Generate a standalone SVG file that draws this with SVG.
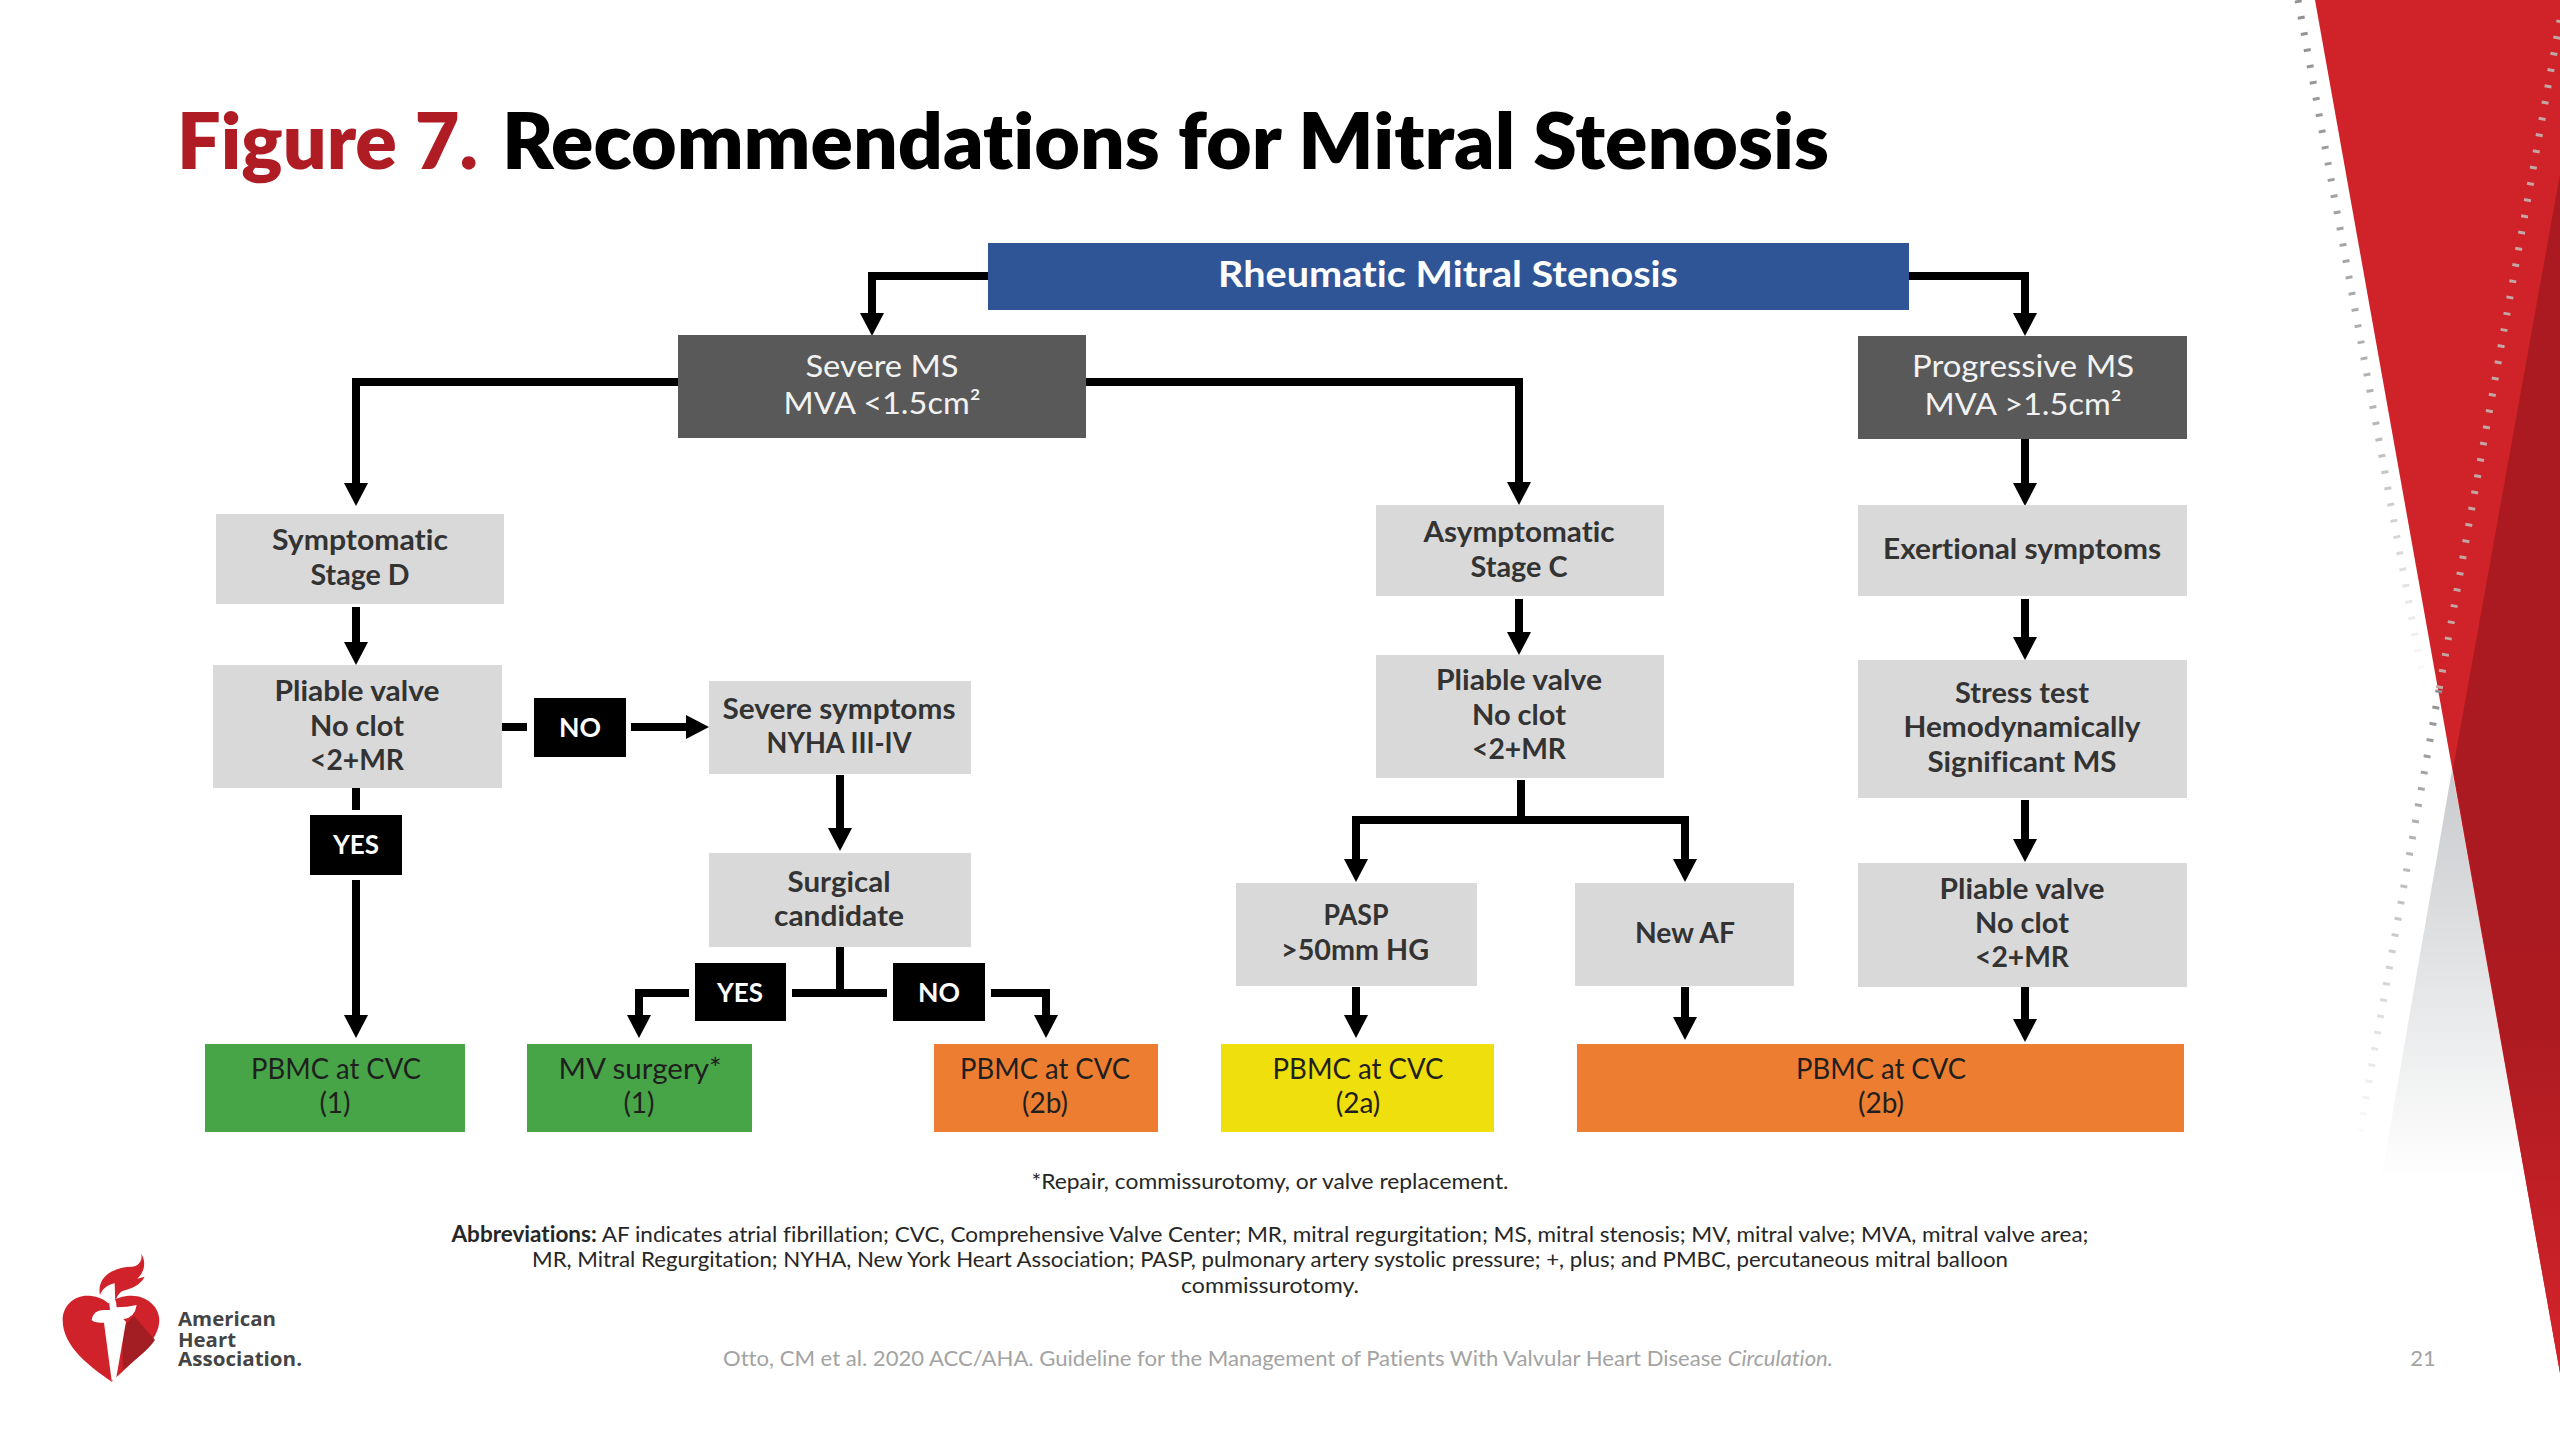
<svg xmlns="http://www.w3.org/2000/svg" width="2560" height="1440" viewBox="0 0 2560 1440">
<style>
text{font-family:Lato,"Open Sans","Liberation Sans",sans-serif;text-anchor:middle;font-variant-ligatures:none}
.t{font-size:77px;font-weight:800;text-anchor:start;fill:#000}
.g{fill:#d9d9d9}.d{fill:#595959}.k{fill:#000}
.gt{font-size:28px;font-weight:700;fill:#333}
.wt{font-size:31px;fill:#f2f2f2}
.lt{font-size:27px;font-weight:700;fill:#fff}
.rt{font-size:28px;fill:#1f1f1f}
.sm{font-size:22px;fill:#262626}
.ft{font-size:22px;fill:#a3a3a3}
.ln{fill:none;stroke:#000;stroke-width:8}
.ar{marker-end:url(#ah)}
.lg{font-family:"Open Sans",sans-serif;font-size:20px;font-weight:700;fill:#444;text-anchor:start}
</style>
<defs>
<marker id="ah" markerUnits="userSpaceOnUse" markerWidth="23" markerHeight="24" refX="0" refY="12" orient="auto"><path d="M0 0L23 12L0 24Z" fill="#000"/></marker>
<linearGradient id="dk" gradientUnits="userSpaceOnUse" x1="0" y1="800" x2="0" y2="1320"><stop offset="0" stop-color="#aa1a20"/><stop offset="0.45" stop-color="#ad1b21"/><stop offset="1" stop-color="#cf2229"/></linearGradient>
<linearGradient id="gr" gradientUnits="userSpaceOnUse" x1="0" y1="775" x2="0" y2="1180"><stop offset="0" stop-color="#c9cbce"/><stop offset="1" stop-color="#fff"/></linearGradient>
<linearGradient id="d1" gradientUnits="userSpaceOnUse" x1="0" y1="0" x2="0" y2="690"><stop offset="0" stop-color="#8f8f8f"/><stop offset="0.6" stop-color="#b5b5b5"/><stop offset="1" stop-color="#fff"/></linearGradient>
<linearGradient id="d2" gradientUnits="userSpaceOnUse" x1="0" y1="690" x2="0" y2="1150"><stop offset="0" stop-color="#8f8f8f"/><stop offset="1" stop-color="#fff"/></linearGradient>
</defs>
<rect width="2560" height="1440" fill="#fff"/>
<g id="background">
<polygon points="2452,770 2381,1180 2526,1180" fill="url(#gr)"/>
<polygon points="2315,0 2560,0 2560,1373" fill="#cf2229"/>
<polygon points="2560,174 2453,769 2560,1373" fill="url(#dk)"/>
<line x1="2298" y1="0" x2="2425" y2="690" stroke="url(#d1)" stroke-width="7" stroke-dasharray="3 13.5"/>
<line x1="2560" y1="20" x2="2439" y2="690" stroke="#c4a7a4" stroke-width="7" stroke-dasharray="3 13.5"/>
<line x1="2439" y1="690" x2="2357" y2="1148" stroke="url(#d2)" stroke-width="7" stroke-dasharray="3 13.5"/>
<text x="2423" y="1366" style="font-size:22px;fill:#a3a3a3">21</text>
</g>
<text id="title" class="t" y="169"><tspan x="177" fill="#b01c24" textLength="301" lengthAdjust="spacingAndGlyphs">Figure 7.</tspan> <tspan x="502" textLength="1327" lengthAdjust="spacingAndGlyphs">Recommendations for Mitral Stenosis</tspan></text>
<g id="connectors">
<path class="ln ar" d="M988 276H872V313"/>
<path class="ln ar" d="M1909 276H2025V313"/>
<path class="ln ar" d="M678 382H356V483"/>
<path class="ln ar" d="M1086 382H1519V482"/>
<path class="ln ar" d="M2025 439V483"/>
<path class="ln ar" d="M356 607V642"/>
<path class="ln ar" d="M1519 599V632"/>
<path class="ln ar" d="M2025 599V637"/>
<path class="ln" d="M500 727H527"/>
<path class="ln ar" d="M631 727H686"/>
<path class="ln" d="M356 787V810"/>
<path class="ln ar" d="M356 880V1015"/>
<path class="ln ar" d="M840 775V828"/>
<path class="ln" d="M840 947V993M792 993H887"/>
<path class="ln ar" d="M689 993H639V1015"/>
<path class="ln ar" d="M991 993H1046V1015"/>
<path class="ln" d="M1521 780V820"/>
<path class="ln ar" d="M1521 820H1356V859"/>
<path class="ln ar" d="M1521 820H1685V859"/>
<path class="ln ar" d="M2025 800V839"/>
<path class="ln ar" d="M1356 987V1015"/>
<path class="ln ar" d="M1685 987V1017"/>
<path class="ln ar" d="M2025 987V1019"/>
</g>
<g id="n-root"><rect x="988" y="243" width="921" height="67" fill="#2f5597"/><text x="1448" y="287" textLength="460" lengthAdjust="spacingAndGlyphs" style="font-size:36px;font-weight:700;fill:#fff">Rheumatic Mitral Stenosis</text></g>
<g id="n-severe"><rect class="d" x="678" y="335" width="408" height="103"/><text class="wt" x="882" y="377" textLength="153" lengthAdjust="spacingAndGlyphs">Severe MS</text><text class="wt" x="882" y="414" textLength="197" lengthAdjust="spacingAndGlyphs">MVA &lt;1.5cm²</text></g>
<g id="n-progressive"><rect class="d" x="1858" y="336" width="329" height="103"/><text class="wt" x="2023" y="377" textLength="222" lengthAdjust="spacingAndGlyphs">Progressive MS</text><text class="wt" x="2023" y="415" textLength="197" lengthAdjust="spacingAndGlyphs">MVA &gt;1.5cm²</text></g>
<g id="n-sympt"><rect class="g" x="216" y="514" width="288" height="90"/><text class="gt" x="360" y="550" textLength="176" lengthAdjust="spacingAndGlyphs">Symptomatic</text><text class="gt" x="360" y="585" textLength="99" lengthAdjust="spacingAndGlyphs">Stage D</text></g>
<g id="n-pliable-l"><rect class="g" x="213" y="665" width="289" height="123"/><text class="gt" x="357" y="701" textLength="165" lengthAdjust="spacingAndGlyphs">Pliable valve</text><text class="gt" x="357" y="736" textLength="94" lengthAdjust="spacingAndGlyphs">No clot</text><text class="gt" x="357" y="770" textLength="94" lengthAdjust="spacingAndGlyphs">&lt;2+MR</text></g>
<g id="n-no1"><rect class="k" x="534" y="698" width="92" height="59"/><text class="lt" x="580" y="737" textLength="42" lengthAdjust="spacingAndGlyphs">NO</text></g>
<g id="n-yes1"><rect class="k" x="310" y="815" width="92" height="60"/><text class="lt" x="356" y="854" textLength="46" lengthAdjust="spacingAndGlyphs">YES</text></g>
<g id="n-severe-sym"><rect class="g" x="709" y="681" width="262" height="93"/><text class="gt" x="839" y="719" textLength="233" lengthAdjust="spacingAndGlyphs">Severe symptoms</text><text class="gt" x="839" y="753" textLength="145" lengthAdjust="spacingAndGlyphs">NYHA III-IV</text></g>
<g id="n-surgical"><rect class="g" x="709" y="853" width="262" height="94"/><text class="gt" x="839" y="892" textLength="103" lengthAdjust="spacingAndGlyphs">Surgical</text><text class="gt" x="839" y="926" textLength="130" lengthAdjust="spacingAndGlyphs">candidate</text></g>
<g id="n-yes2"><rect class="k" x="695" y="963" width="91" height="58"/><text class="lt" x="740" y="1002" textLength="46" lengthAdjust="spacingAndGlyphs">YES</text></g>
<g id="n-no2"><rect class="k" x="893" y="963" width="92" height="58"/><text class="lt" x="939" y="1002" textLength="42" lengthAdjust="spacingAndGlyphs">NO</text></g>
<g id="n-asympt"><rect class="g" x="1376" y="505" width="288" height="91"/><text class="gt" x="1519" y="542" textLength="191" lengthAdjust="spacingAndGlyphs">Asymptomatic</text><text class="gt" x="1519" y="577" textLength="97" lengthAdjust="spacingAndGlyphs">Stage C</text></g>
<g id="n-pliable-m"><rect class="g" x="1376" y="655" width="288" height="123"/><text class="gt" x="1519" y="690" textLength="166" lengthAdjust="spacingAndGlyphs">Pliable valve</text><text class="gt" x="1519" y="725" textLength="94" lengthAdjust="spacingAndGlyphs">No clot</text><text class="gt" x="1519" y="759" textLength="94" lengthAdjust="spacingAndGlyphs">&lt;2+MR</text></g>
<g id="n-pasp"><rect class="g" x="1236" y="883" width="241" height="103"/><text class="gt" x="1356" y="925" textLength="65" lengthAdjust="spacingAndGlyphs">PASP</text><text class="gt" x="1355" y="960" textLength="148" lengthAdjust="spacingAndGlyphs">&gt;50mm HG</text></g>
<g id="n-newaf"><rect class="g" x="1575" y="883" width="219" height="103"/><text class="gt" x="1685" y="943" textLength="100" lengthAdjust="spacingAndGlyphs">New AF</text></g>
<g id="n-exert"><rect class="g" x="1858" y="505" width="329" height="91"/><text class="gt" x="2022" y="559" textLength="278" lengthAdjust="spacingAndGlyphs">Exertional symptoms</text></g>
<g id="n-stress"><rect class="g" x="1858" y="660" width="329" height="138"/><text class="gt" x="2022" y="703" textLength="134" lengthAdjust="spacingAndGlyphs">Stress test</text><text class="gt" x="2022" y="737" textLength="237" lengthAdjust="spacingAndGlyphs">Hemodynamically</text><text class="gt" x="2022" y="772" textLength="189" lengthAdjust="spacingAndGlyphs">Significant MS</text></g>
<g id="n-pliable-r"><rect class="g" x="1858" y="863" width="329" height="124"/><text class="gt" x="2022" y="899" textLength="165" lengthAdjust="spacingAndGlyphs">Pliable valve</text><text class="gt" x="2022" y="933" textLength="94" lengthAdjust="spacingAndGlyphs">No clot</text><text class="gt" x="2022" y="967" textLength="94" lengthAdjust="spacingAndGlyphs">&lt;2+MR</text></g>
<g id="n-out1"><rect x="205" y="1044" width="260" height="88" fill="#47a548"/><text class="rt" x="336" y="1079" textLength="170" lengthAdjust="spacingAndGlyphs">PBMC at CVC</text><text class="rt" x="335" y="1113">(1)</text></g>
<g id="n-out2"><rect x="527" y="1044" width="225" height="88" fill="#47a548"/><text class="rt" x="640" y="1079" textLength="163" lengthAdjust="spacingAndGlyphs">MV surgery*</text><text class="rt" x="639" y="1113">(1)</text></g>
<g id="n-out3"><rect x="934" y="1044" width="224" height="88" fill="#ed7d31"/><text class="rt" x="1045" y="1079" textLength="170" lengthAdjust="spacingAndGlyphs">PBMC at CVC</text><text class="rt" x="1045" y="1113">(2b)</text></g>
<g id="n-out4"><rect x="1221" y="1044" width="273" height="88" fill="#efdf0c"/><text class="rt" x="1358" y="1079" textLength="171" lengthAdjust="spacingAndGlyphs">PBMC at CVC</text><text class="rt" x="1358" y="1113">(2a)</text></g>
<g id="n-out5"><rect x="1577" y="1044" width="607" height="88" fill="#ed7d31"/><text class="rt" x="1881" y="1079" textLength="170" lengthAdjust="spacingAndGlyphs">PBMC at CVC</text><text class="rt" x="1881" y="1113">(2b)</text></g>
<g id="notes">
<text class="sm" x="1270" y="1189" textLength="477" lengthAdjust="spacingAndGlyphs">*Repair, commissurotomy, or valve replacement.</text>
<text class="sm" x="1270" y="1242" textLength="1637" lengthAdjust="spacingAndGlyphs"><tspan font-weight="700">Abbreviations:</tspan> AF indicates atrial fibrillation; CVC, Comprehensive Valve Center; MR, mitral regurgitation; MS, mitral stenosis; MV, mitral valve; MVA, mitral valve area;</text>
<text class="sm" x="1270" y="1267" textLength="1476" lengthAdjust="spacingAndGlyphs">MR, Mitral Regurgitation; NYHA, New York Heart Association; PASP, pulmonary artery systolic pressure; +, plus; and PMBC, percutaneous mitral balloon</text>
<text class="sm" x="1270" y="1293" textLength="178" lengthAdjust="spacingAndGlyphs">commissurotomy.</text>
<text class="ft" x="1278" y="1366" textLength="1110" lengthAdjust="spacingAndGlyphs">Otto, CM et al. 2020 ACC/AHA. Guideline for the Management of Patients With Valvular Heart Disease <tspan font-style="italic">Circulation.</tspan></text>
</g>
<g id="logo">
<g transform="translate(40 1230) scale(.3333)">
<path d="M215 455C150 410 68 350 68 270C68 225 105 197 140 197C165 197 190 205 205 220C225 205 250 197 275 197C320 197 358 230 358 270C358 330 290 385 215 455Z" fill="#d0222a"/>
<path d="M248 292L282 258L345 330C325 360 285 390 248 420Z" fill="#a31e22"/>
<path d="M155 270Q160 240 190 240L210 240L205 190L225 190L230 232Q262 232 290 225Q285 262 250 268L258 275L228 448L215 452L192 278Q165 280 155 270Z" fill="#fff"/>
<path d="M180 196C168 135 230 110 275 110C295 110 310 90 303 70C322 100 310 130 292 146L314 140C300 168 270 176 250 182C235 187 228 205 226 218L224 160C200 165 186 178 180 196Z" fill="#d0222a"/>
</g>
<text class="lg"><tspan x="178" y="1326" textLength="98" lengthAdjust="spacingAndGlyphs">American</tspan> <tspan x="178" y="1347" textLength="58" lengthAdjust="spacingAndGlyphs">Heart</tspan> <tspan x="178" y="1366" textLength="124" lengthAdjust="spacingAndGlyphs">Association.</tspan></text>
</g>
</svg>
